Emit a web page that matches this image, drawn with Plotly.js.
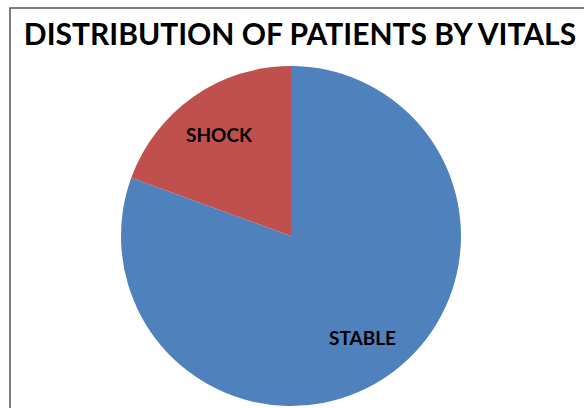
<!DOCTYPE html>
<html><head><meta charset="utf-8">
<script src="https://cdn.plot.ly/plotly-3.0.1.min.js"></script>
<style>html,body{margin:0;padding:0;background:#fff}</style>
</head><body>
<div id="chart" style="width:584px;height:408px"></div>
<script>
const categories = ["STABLE", "SHOCK"];
const patientCounts = [29, 7];
const sliceColors = ["#4F81BD", "#C0504D"];

const W = 584, H = 408;
const cx = 291, cy = 236, r = 170;
const labelRadius = 0.73;

const total = patientCounts.reduce((a, b) => a + b, 0);
const annotations = [];
let cum = 0;
categories.forEach((c, i) => {
  const mid = (cum + patientCounts[i] / 2) / total * 2 * Math.PI; // clockwise from 12 o'clock
  cum += patientCounts[i];
  const px = cx + Math.sin(mid) * r * labelRadius;
  const py = cy - Math.cos(mid) * r * labelRadius;
  annotations.push({
    text: "<b>" + c + "</b>", x: px / W, y: 1 - py / H, xref: "paper", yref: "paper",
    showarrow: false, xanchor: "center", yanchor: "middle",
    font: {family: "Lato, 'Open Sans', sans-serif", size: 19, color: "#000"}
  });
});

const data = [{
  type: "pie",
  labels: categories,
  values: patientCounts,
  sort: false,
  direction: "clockwise",
  rotation: 0,
  marker: {colors: sliceColors, line: {width: 0}},
  textinfo: "none",
  hoverinfo: "label+value+percent",
  showlegend: false,
  domain: {x: [(cx - r) / W, (cx + r) / W], y: [1 - (cy + r) / H, 1 - (cy - r) / H]}
}];

const layout = {
  width: W, height: H,
  margin: {l: 0, r: 0, t: 0, b: 0},
  paper_bgcolor: "#fff",
  title: {
    text: "<b>DISTRIBUTION OF PATIENTS BY VITALS</b>",
    font: {family: "Lato, 'Open Sans', sans-serif", size: 30, color: "#000"},
    x: 300 / W, xanchor: "center",
    y: 1 - 34 / H, yanchor: "middle"
  },
  annotations: annotations,
  shapes: [{
    type: "rect", xref: "paper", yref: "paper",
    x0: 10 / W, x1: 1.02, y0: -0.02, y1: 1 - 8 / H,
    line: {color: "#555", width: 1.5}
  }]
};

Plotly.newPlot("chart", data, layout, {displayModeBar: false, staticPlot: true});
</script>
</body></html>
